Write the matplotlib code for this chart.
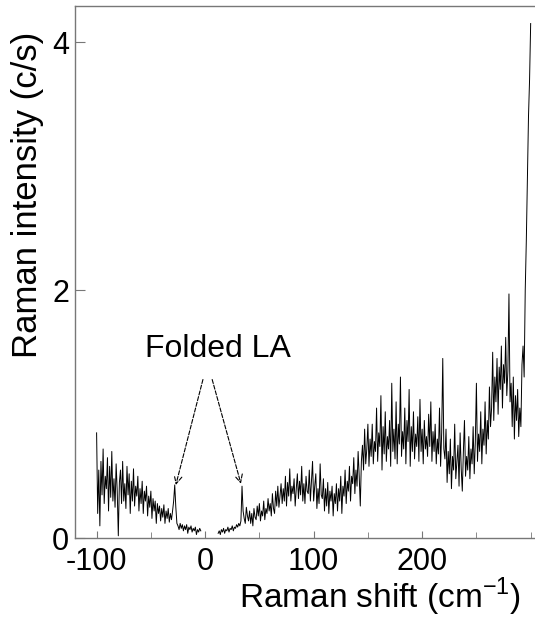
import matplotlib
matplotlib.use("Agg")
import matplotlib.pyplot as plt
from matplotlib.ticker import MultipleLocator
import numpy as np

plt.rcParams['font.family'] = ['Liberation Sans', 'DejaVu Sans']
plt.rcParams['axes.unicode_minus'] = False

# anti-Stokes side, one value per cm-1 starting at -100 (laser line removed)
LEFT_START = -100
INTENSITY_LEFT = [
    0.85, 0.20, 0.55, 0.10, 0.62, 0.35, 0.72, 0.28, 0.50, 0.40,
    0.65, 0.22, 0.58, 0.33, 0.70, 0.30, 0.48, 0.25, 0.60, 0.38,
    0.02, 0.45, 0.55, 0.28, 0.62, 0.30, 0.44, 0.24, 0.58, 0.35,
    0.52, 0.20, 0.46, 0.30, 0.56, 0.26, 0.42, 0.34, 0.50, 0.22,
    0.40, 0.28, 0.46, 0.20, 0.38, 0.30, 0.42, 0.18, 0.34, 0.25,
    0.38, 0.16, 0.32, 0.22, 0.30, 0.12, 0.28, 0.20, 0.26, 0.14,
    0.24, 0.17, 0.27, 0.12, 0.22, 0.16, 0.24, 0.13, 0.20, 0.15,
    0.22, 0.30, 0.43, 0.25, 0.12, 0.10, 0.07, 0.12, 0.08, 0.11,
    0.06, 0.10, 0.07, 0.11, 0.04, 0.09, 0.07, 0.10, 0.05, 0.08,
    0.06, 0.09, 0.03, 0.07, 0.05, 0.08, 0.06,
]

# Stokes side, one value per cm-1 starting at 12
RIGHT_START = 12
INTENSITY_RIGHT = [
    0.04, 0.06, 0.03, 0.07, 0.05, 0.08, 0.04, 0.07, 0.06, 0.09,
    0.05, 0.08, 0.07, 0.10, 0.06, 0.09, 0.08, 0.11, 0.09, 0.12,
    0.10, 0.14, 0.42, 0.22, 0.16, 0.12, 0.25, 0.18, 0.14, 0.22,
    0.12, 0.20, 0.10, 0.24, 0.17, 0.15, 0.26, 0.18, 0.28, 0.14,
    0.22, 0.18, 0.30, 0.15, 0.24, 0.20, 0.32, 0.22, 0.28, 0.18,
    0.36, 0.24, 0.20, 0.38, 0.26, 0.42, 0.25, 0.34, 0.44, 0.28,
    0.40, 0.30, 0.50, 0.26, 0.45, 0.34, 0.56, 0.30, 0.42, 0.36,
    0.48, 0.26, 0.40, 0.52, 0.32, 0.46, 0.35, 0.58, 0.30, 0.44,
    0.28, 0.50, 0.38, 0.36, 0.55, 0.30, 0.46, 0.62, 0.30, 0.42,
    0.52, 0.24, 0.40, 0.28, 0.60, 0.35, 0.32, 0.48, 0.22, 0.40,
    0.26, 0.45, 0.20, 0.38, 0.30, 0.42, 0.18, 0.36, 0.28, 0.44,
    0.22, 0.40, 0.30, 0.50, 0.20, 0.42, 0.34, 0.55, 0.28, 0.46,
    0.38, 0.58, 0.30, 0.50, 0.44, 0.65, 0.36, 0.55, 0.42, 0.70,
    0.50, 0.26, 0.62, 0.75, 0.55, 0.88, 0.60, 0.72, 0.92, 0.58,
    0.80, 0.66, 0.92, 0.60, 0.78, 0.70, 1.05, 0.62, 0.85, 0.74,
    1.15, 0.55, 0.90, 0.68, 1.02, 0.62, 0.82, 0.72, 0.95, 0.58,
    1.25, 0.70, 0.88, 0.64, 1.10, 0.60, 0.92, 0.76, 1.30, 0.66,
    0.86, 0.72, 1.05, 0.60, 0.95, 0.78, 1.20, 0.58, 0.90, 0.70,
    1.02, 0.64, 0.84, 0.74, 0.98, 0.62, 1.12, 0.70, 0.88, 0.60,
    0.95, 0.72, 0.82, 0.66, 1.00, 0.74, 1.10, 0.62, 0.86, 0.70,
    0.92, 0.60, 0.80, 0.68, 1.05, 0.58, 0.85, 1.45, 0.72, 0.64,
    0.88, 0.45, 0.70, 0.52, 0.80, 0.40, 0.66, 0.55, 0.92, 0.48,
    0.62, 0.75, 0.42, 0.85, 0.56, 0.38, 0.70, 0.95, 0.50, 0.66,
    0.55, 0.82, 0.48, 0.72, 0.60, 0.90, 0.52, 0.78, 1.25, 0.62,
    0.84, 0.70, 1.02, 0.60, 0.88, 0.75, 1.10, 0.68, 0.95, 0.80,
    1.22, 0.90, 1.05, 1.50, 0.95, 1.30, 1.10, 1.45, 1.00, 1.38,
    1.20, 1.55, 1.05, 1.40, 1.25, 1.62, 1.15, 1.35, 1.97, 1.10,
    1.25, 0.90, 1.30, 0.80, 1.15, 0.95, 1.20, 0.82, 1.05, 0.90,
    1.40, 1.55, 1.30, 2.00, 2.40, 2.90, 3.40, 3.70, 4.15,
]

# folded LA phonon peaks (arrow tips)
PEAK_SHIFTS = [-27, 33]
PEAK_HEIGHTS = [0.43, 0.44]

GRAY = "#777777"


def main():
    shift_left = LEFT_START + np.arange(len(INTENSITY_LEFT))
    shift_right = RIGHT_START + np.arange(len(INTENSITY_RIGHT))

    fig = plt.figure(figsize=(5.35, 6.18), dpi=100)
    ax = fig.add_axes([0.140, 0.129, 0.860, 0.861])

    ax.plot(shift_left, INTENSITY_LEFT, color="black", lw=0.7)
    ax.plot(shift_right, INTENSITY_RIGHT, color="black", lw=0.7)

    ax.set_xlim(-120, 304)
    ax.set_ylim(0, 4.29)

    ax.xaxis.set_minor_locator(MultipleLocator(50))
    ax.yaxis.set_major_locator(MultipleLocator(2))
    ax.set_xticks([-100, 0, 100, 200])

    ax.tick_params(axis="both", which="both", direction="in", color=GRAY,
                   labelsize=22)
    ax.tick_params(axis="x", which="major", length=5, pad=6)
    ax.tick_params(axis="x", which="minor", length=4)
    ax.tick_params(axis="y", which="major", length=7, pad=4)

    for side in ["left", "top", "bottom"]:
        ax.spines[side].set_color(GRAY)
        ax.spines[side].set_linewidth(1.0)
    ax.spines["right"].set_visible(False)

    ax.text(-0.102, 0.645, "Raman intensity (c/s)", transform=ax.transAxes,
            rotation=90, ha="center", va="center", fontsize=25)
    ax.text(0.663, -0.110, r"Raman shift (cm$^{\mathregular{-1}}$)",
            transform=ax.transAxes, ha="center", va="center", fontsize=24)

    ax.text(12, 1.53, "Folded LA", ha="center", va="center", fontsize=23)
    starts = [(-2, 1.28), (6.5, 1.28)]
    for (sx, sy), px, py in zip(starts, PEAK_SHIFTS, PEAK_HEIGHTS):
        ax.annotate("", xy=(px, py), xytext=(sx, sy),
                    arrowprops=dict(arrowstyle="->", linestyle="--", lw=0.8,
                                    color="black", shrinkA=0, shrinkB=0,
                                    mutation_scale=14))

    fig.savefig("out.png", dpi=100)
    plt.close(fig)


if __name__ == '__main__':
    main()
